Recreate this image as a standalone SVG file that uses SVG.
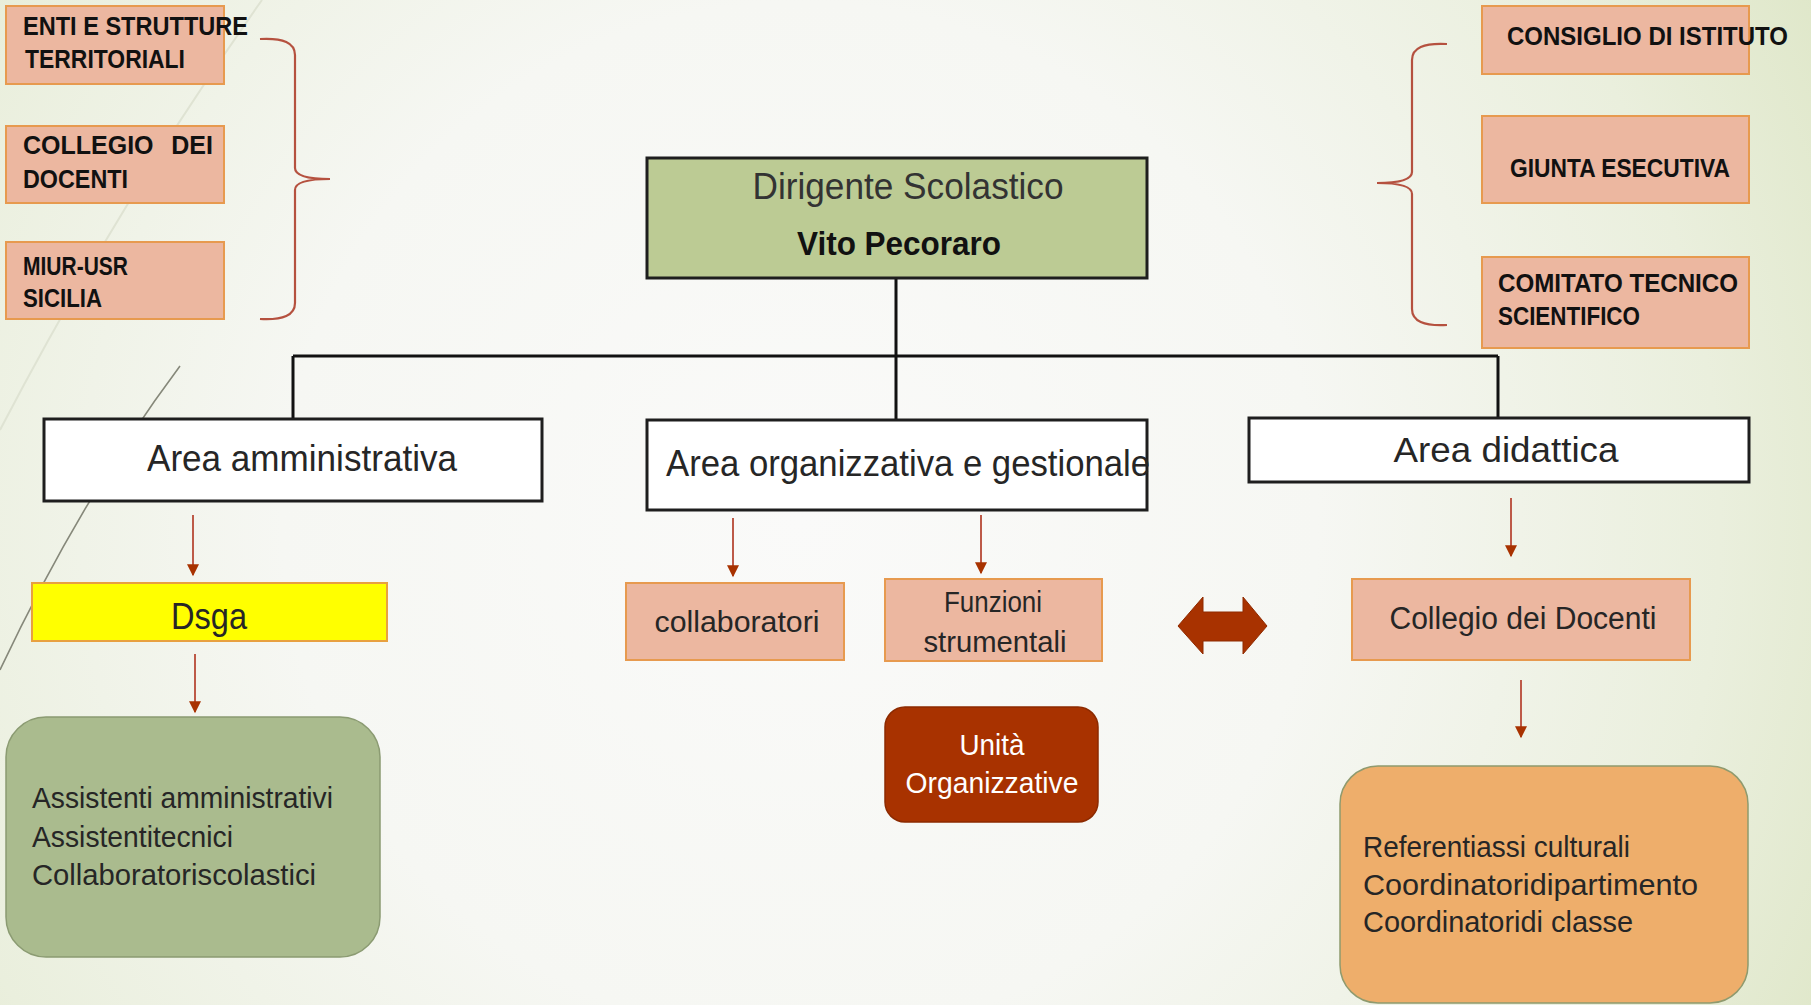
<svg xmlns="http://www.w3.org/2000/svg" width="1811" height="1005" viewBox="0 0 1811 1005">
<style>
text{font-family:"Liberation Sans",Arial,sans-serif;}
.cap{font-weight:bold;font-size:25px;fill:#111;}
.peach{fill:#ecb7a0;stroke:#e79a4f;stroke-width:2;}
.area{fill:#ffffff;stroke:#1e1e1e;stroke-width:3;}
.lbl{fill:#262626;}
.tree{stroke:#111;stroke-width:3;fill:none;}
.arr{stroke:#bd5a48;stroke-width:2;fill:none;marker-end:url(#ah);}
.brace{stroke:#b5513f;stroke-width:2.2;fill:none;}
</style>
<defs>
<radialGradient id="bg" cx="800" cy="520" r="1150" gradientUnits="userSpaceOnUse">
<stop offset="0" stop-color="#fafaf9"/>
<stop offset="0.45" stop-color="#f6f7f3"/>
<stop offset="0.8" stop-color="#eaefdd"/>
<stop offset="1" stop-color="#dfe7c9"/>
</radialGradient>
<marker id="ah" viewBox="0 0 10 10" refX="9" refY="5" markerWidth="15" markerHeight="12" orient="auto" markerUnits="userSpaceOnUse">
<path d="M0 0 L10 5 L0 10 Z" fill="#a83200"/>
</marker>
</defs>
<rect width="1811" height="1005" fill="url(#bg)"/>
<path d="M262 0 Q120 200 0 430" stroke="#dfe3d3" stroke-width="2" fill="none"/>
<path d="M180 366 Q80 500 0 670" stroke="#86887a" stroke-width="1.6" fill="none"/>

<g id="connectors">
<path class="tree" d="M896 279 V420 M293 356 H1498 M293 356 V419 M1498 356 V418"/>
<path class="arr" d="M193 515 V575"/>
<path class="arr" d="M195 654 V712"/>
<path class="arr" d="M733 518 V576"/>
<path class="arr" d="M981 515 V573"/>
<path class="arr" d="M1511 498 V556"/>
<path class="arr" d="M1521 680 V737"/>
<path class="brace" d="M260 39 Q295 37 295 55 L295 168 Q295 179 330 179 Q295 179 295 190 L295 303 Q295 321 260 319"/>
<path class="brace" d="M1447 44 Q1412 42 1412 60 L1412 172 Q1412 183 1377 183 Q1412 183 1412 194 L1412 309 Q1412 327 1447 325"/>
<path d="M1178 626 L1203 597 L1203 612 L1243 612 L1243 597 L1267 626 L1243 654 L1243 641 L1203 641 L1203 654 Z" fill="#a83200" stroke="#8f2a00" stroke-width="1"/>
</g>

<g id="enti">
<rect class="peach" x="6" y="6" width="218" height="78"/>
<text class="cap" x="23" y="35" textLength="225" lengthAdjust="spacingAndGlyphs">ENTI E STRUTTURE</text>
<text class="cap" x="25" y="68" textLength="160" lengthAdjust="spacingAndGlyphs">TERRITORIALI</text>
</g>
<g id="collegio-sx">
<rect class="peach" x="6" y="126" width="218" height="77"/>
<text class="cap" y="154"><tspan x="23">COLLEGIO</tspan> <tspan x="213" text-anchor="end">DEI</tspan></text>
<text class="cap" x="23" y="188" textLength="105" lengthAdjust="spacingAndGlyphs">DOCENTI</text>
</g>
<g id="miur">
<rect class="peach" x="6" y="242" width="218" height="77"/>
<text class="cap" x="23" y="275" textLength="105" lengthAdjust="spacingAndGlyphs">MIUR-USR</text>
<text class="cap" x="23" y="307" textLength="79" lengthAdjust="spacingAndGlyphs">SICILIA</text>
</g>

<g id="consiglio">
<rect class="peach" x="1482" y="6" width="267" height="68"/>
<text class="cap" x="1507" y="45" textLength="281" lengthAdjust="spacingAndGlyphs">CONSIGLIO DI ISTITUTO</text>
</g>
<g id="giunta">
<rect class="peach" x="1482" y="116" width="267" height="87"/>
<text class="cap" x="1510" y="177" textLength="220" lengthAdjust="spacingAndGlyphs">GIUNTA ESECUTIVA</text>
</g>
<g id="comitato">
<rect class="peach" x="1482" y="257" width="267" height="91"/>
<text class="cap" x="1498" y="292" textLength="240" lengthAdjust="spacingAndGlyphs">COMITATO TECNICO</text>
<text class="cap" x="1498" y="325" textLength="142" lengthAdjust="spacingAndGlyphs">SCIENTIFICO</text>
</g>

<g id="dirigente">
<rect x="647" y="158" width="500" height="120" fill="#bccb94" stroke="#1e1e1e" stroke-width="3"/>
<text x="908" y="199" text-anchor="middle" font-size="37" fill="#333" textLength="311" lengthAdjust="spacingAndGlyphs">Dirigente Scolastico</text>
<text x="899" y="255" text-anchor="middle" font-size="34" font-weight="bold" fill="#111" textLength="204" lengthAdjust="spacingAndGlyphs">Vito Pecoraro</text>
</g>

<g id="area-amm">
<rect class="area" x="44" y="419" width="498" height="82"/>
<text class="lbl" x="302" y="471" text-anchor="middle" font-size="36" textLength="310" lengthAdjust="spacingAndGlyphs">Area amministrativa</text>
</g>
<g id="area-org">
<rect class="area" x="647" y="420" width="500" height="90"/>
<text class="lbl" x="666" y="476" font-size="36" textLength="484" lengthAdjust="spacingAndGlyphs">Area organizzativa e gestionale</text>
</g>
<g id="area-did">
<rect class="area" x="1249" y="418" width="500" height="64"/>
<text class="lbl" x="1506" y="462" text-anchor="middle" font-size="35" textLength="225" lengthAdjust="spacingAndGlyphs">Area didattica</text>
</g>

<g id="dsga">
<rect x="32" y="583" width="355" height="58" fill="#ffff00" stroke="#e8a040" stroke-width="2"/>
<text class="lbl" x="209" y="629" text-anchor="middle" font-size="36" textLength="76" lengthAdjust="spacingAndGlyphs">Dsga</text>
</g>
<g id="assistenti">
<rect x="6" y="717" width="374" height="240" rx="40" fill="#aabb8e" stroke="#8b9b72" stroke-width="1.5"/>
<text class="lbl" x="32" y="808" font-size="30" textLength="301" lengthAdjust="spacingAndGlyphs">Assistenti amministrativi</text>
<text class="lbl" x="32" y="847" font-size="30" textLength="201" lengthAdjust="spacingAndGlyphs">Assistentitecnici</text>
<text class="lbl" x="32" y="885" font-size="30" textLength="284" lengthAdjust="spacingAndGlyphs">Collaboratoriscolastici</text>
</g>

<g id="collaboratori">
<rect class="peach" x="626" y="583" width="218" height="77"/>
<text class="lbl" x="737" y="632" text-anchor="middle" font-size="30" textLength="165" lengthAdjust="spacingAndGlyphs">collaboratori</text>
</g>
<g id="funzioni">
<rect class="peach" x="885" y="579" width="217" height="82"/>
<text class="lbl" x="993" y="612" text-anchor="middle" font-size="30" textLength="98" lengthAdjust="spacingAndGlyphs">Funzioni</text>
<text class="lbl" x="995" y="652" text-anchor="middle" font-size="30" textLength="143" lengthAdjust="spacingAndGlyphs">strumentali</text>
</g>
<g id="unita">
<rect x="885" y="707" width="213" height="115" rx="20" fill="#a83200" stroke="#8c2a00" stroke-width="1.5"/>
<text x="992" y="755" text-anchor="middle" font-size="30" fill="#ffffff" textLength="65" lengthAdjust="spacingAndGlyphs">Unità</text>
<text x="992" y="793" text-anchor="middle" font-size="30" fill="#ffffff" textLength="173" lengthAdjust="spacingAndGlyphs">Organizzative</text>
</g>

<g id="collegio-docenti">
<rect class="peach" x="1352" y="579" width="338" height="81"/>
<text class="lbl" x="1523" y="629" text-anchor="middle" font-size="31" textLength="267" lengthAdjust="spacingAndGlyphs">Collegio dei Docenti</text>
</g>
<g id="referenti">
<rect x="1340" y="766" width="408" height="237" rx="38" fill="#eeae6b" stroke="#8f9a6e" stroke-width="1.5"/>
<text class="lbl" x="1363" y="857" font-size="30" textLength="267" lengthAdjust="spacingAndGlyphs">Referentiassi culturali</text>
<text class="lbl" x="1363" y="895" font-size="30" textLength="335" lengthAdjust="spacingAndGlyphs">Coordinatoridipartimento</text>
<text class="lbl" x="1363" y="932" font-size="30" textLength="270" lengthAdjust="spacingAndGlyphs">Coordinatoridi classe</text>
</g>
</svg>
